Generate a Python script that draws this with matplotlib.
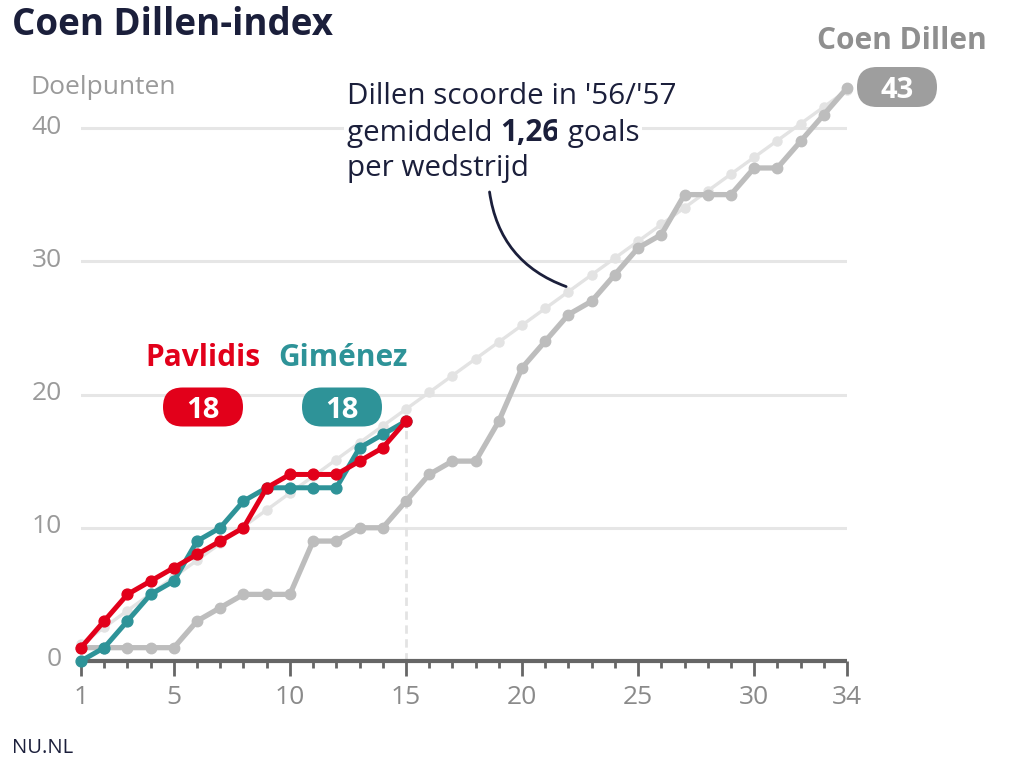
import matplotlib.pyplot as plt
from matplotlib.patches import FancyBboxPatch
from matplotlib.transforms import IdentityTransform, offset_copy

plt.rcParams['font.family'] = ['Open Sans', 'DejaVu Sans']

# speelrondes en doelpunten (cumulatief)
speelronde = list(range(1, 35))
dillen = [1, 1, 1, 1, 1, 3, 4, 5, 5, 5, 9, 9, 10, 10, 12, 14, 15, 15, 18, 22,
          24, 26, 27, 29, 31, 32, 35, 35, 35, 37, 37, 39, 41, 43]
dillen_gem = [1.26, 2.52, 3.78, 5.04, 6.30, 7.56, 8.82, 10.08, 11.34, 12.60,
              13.86, 15.12, 16.38, 17.64, 18.90, 20.16, 21.42, 22.68, 23.94, 25.20,
              26.46, 27.72, 28.98, 30.24, 31.50, 32.76, 34.02, 35.28, 36.54, 37.80,
              39.06, 40.32, 41.58, 42.84]
ronde_nu = list(range(1, 16))
pavlidis = [1, 3, 5, 6, 7, 8, 9, 10, 13, 14, 14, 14, 15, 16, 18]
gimenez = [0, 1, 3, 5, 6, 9, 10, 12, 13, 13, 13, 13, 16, 17, 18]

yticks = [0, 10, 20, 30, 40]
xticks = [1, 5, 10, 15, 20, 25, 30, 34]

NAVY = '#1b1f3b'
RED = '#e2001a'
TEAL = '#2e9398'
GREY = '#bdbdbd'
LIGHT = '#e3e3e3'
LABEL = '#8f8f8f'

W, H = 1024, 768
fig = plt.figure(figsize=(W / 100, H / 100), dpi=100)
ax = fig.add_axes([81 / W, (H - 661) / H, 766 / W, 43 * 13.325 / H])


def fx(x):
    return x / W


def fy(y):
    return 1 - y / H


# lijnen
ax.plot([15, 15], [0, dillen_gem[14]], color=LIGHT, lw=2, ls=(0, (3, 2)), zorder=1)
ax.plot(speelronde, dillen_gem, color=LIGHT, lw=2.4, marker='o', ms=6.5, zorder=2, clip_on=False)
ax.plot(speelronde, dillen, color=GREY, lw=3.8, marker='o', ms=7.5, zorder=3, clip_on=False)
ax.plot(ronde_nu, gimenez, color=TEAL, lw=3.6, marker='o', ms=7.8, zorder=4, clip_on=False)
ax.plot(ronde_nu, pavlidis, color=RED, lw=3.6, marker='o', ms=7.8, zorder=5, clip_on=False)

ax.set_xlim(1, 34)
ax.set_ylim(0, 43)
for s in ['top', 'right', 'left']:
    ax.spines[s].set_visible(False)
ax.spines['bottom'].set_color('#666666')
ax.spines['bottom'].set_linewidth(3)
ax.spines['bottom'].set_capstyle('butt')
ax.spines['bottom'].set_zorder(1.5)

ax.set_yticks(yticks)
ax.set_yticklabels([str(v) for v in yticks])
ax.tick_params(axis='y', length=0, pad=14, labelsize=19, labelcolor='#9a9a9a')
for lab in ax.get_yticklabels():
    lab.set_transform(offset_copy(lab.get_transform(), fig=fig, y=4, units='dots'))
ax.set_xticks(xticks)
ax.set_xticks(speelronde, minor=True)
ax.tick_params(axis='x', which='major', length=11, width=2, color='#666666',
               pad=6, labelsize=19, labelcolor='#8a8a8a')
ax.tick_params(axis='x', which='minor', length=5, width=2, color='#666666')
for yv in yticks[1:]:
    ax.axhline(yv, color='#e6e6e6', lw=2.2, zorder=0)

# titel en labels
fig.text(fx(12), fy(25), 'Coen Dillen-index', fontsize=26.5, fontweight='bold',
         color=NAVY, va='center')
fig.text(fx(30), fy(87), 'Doelpunten', fontsize=19, color='#9a9a9a', va='center')
fig.text(fx(12), fy(748), 'NU.NL', fontsize=14.5, color=NAVY, va='center')

fig.text(fx(203), fy(358), 'Pavlidis', fontsize=21.5, fontweight='bold', color=RED,
         ha='center', va='center')
fig.text(fx(343), fy(358), 'Giménez', fontsize=21.5, fontweight='bold', color=TEAL,
         ha='center', va='center')
fig.text(fx(902), fy(41), 'Coen Dillen', fontsize=21.5, fontweight='bold', color=LABEL,
         ha='center', va='center')


def pill(cx, cy, w, h, color, label):
    box = FancyBboxPatch((cx - w / 2, H - cy - h / 2), w, h,
                         boxstyle=f'round,pad=0,rounding_size={h / 2}',
                         transform=IdentityTransform(), fc=color, ec='none')
    fig.add_artist(box)
    fig.text(fx(cx), fy(cy), label, color='white', fontsize=21, fontweight='bold',
             ha='center', va='center_baseline')


pill(203, 407, 80, 39, RED, str(pavlidis[-1]))
pill(342, 407, 80, 39, TEAL, str(gimenez[-1]))
pill(897, 87, 80, 40, '#9e9e9e', str(dillen[-1]))

# annotatie
fs = 21.3
wit = dict(fc='white', ec='none', pad=2)
fig.text(fx(347), fy(104), "Dillen scoorde in '56/'57", fontsize=fs, color=NAVY,
         va='baseline', bbox=wit)
r = fig.canvas.get_renderer()
t1 = fig.text(fx(347), fy(141), 'gemiddeld ', fontsize=fs, color=NAVY,
              va='baseline', bbox=wit)
x2 = t1.get_window_extent(r).x1
t2 = fig.text(x2 / W, fy(141), '1,26', fontsize=fs, fontweight='bold', color=NAVY,
              va='baseline', bbox=wit)
x3 = t2.get_window_extent(r).x1
fig.text(x3 / W, fy(141), ' goals', fontsize=fs, color=NAVY, va='baseline', bbox=wit)
fig.text(fx(347), fy(176), 'per wedstrijd', fontsize=fs, color=NAVY,
         va='baseline', bbox=wit)

ax.annotate('', xy=(21.9, 28.1), xytext=(18.6, 35.2),
            arrowprops=dict(arrowstyle='-', color=NAVY, lw=2,
                            connectionstyle='arc3,rad=0.3', shrinkA=0, shrinkB=0))

fig.savefig('out.png', dpi=100)
